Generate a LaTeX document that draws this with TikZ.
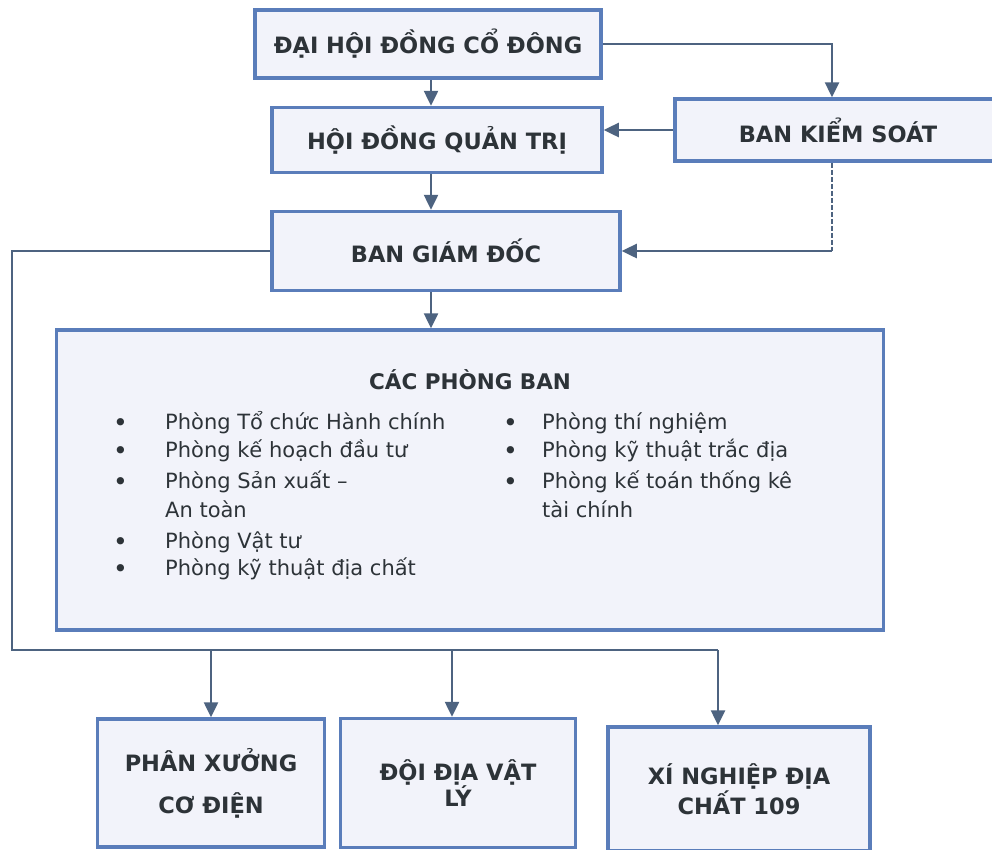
\documentclass[tikz,border=0pt]{standalone}
\usepackage{fontspec}
\setmainfont{DejaVu Sans}
\usetikzlibrary{arrows.meta,positioning}
\definecolor{boxline}{HTML}{5A7DBA}
\definecolor{boxfill}{HTML}{F2F3FA}
\definecolor{wire}{HTML}{4D6380}
\definecolor{ink}{HTML}{2D3338}
\tikzset{
  unit/.style={draw=boxline, line width=3.5pt, fill=boxfill, text=ink, align=center, inner sep=0pt,
    font=\bfseries\fontsize{22.5}{25}\selectfont},
  link/.style={draw=wire, line width=2.5pt, -{Triangle[length=15pt,width=14pt]}},
  wireline/.style={draw=wire, line width=2.5pt},
  item/.style={text=ink, anchor=west, inner sep=0pt, text height=15pt, text depth=5pt,
    font=\fontsize{21}{25}\selectfont},
  dot/.style={item, text height=8pt, text depth=0pt, font=\fontsize{25}{25}\selectfont},
}
\begin{document}
\begin{tikzpicture}[x=1pt,y=-1pt]
  \useasboundingbox (0,0) rectangle (992,849);
  \fill[white] (0,0) rectangle (992,849);
  \coordinate (axis) at (431,0);
  \coordinate (ks) at (832,0);
  \coordinate (s0) at (12,650);
  \coordinate (s1) at (211,650);
  \coordinate (s2) at (452,650);
  \coordinate (s3) at (718,650);

  \node[unit, minimum width=346pt, minimum height=68pt] (dhdcd) at (428,44) {ĐẠI HỘI ĐỒNG CỔ ĐÔNG};
  \node[unit, minimum width=330pt, minimum height=65pt] (hdqt) at (437,140) {HỘI ĐỒNG QUẢN TRỊ};
  \node[unit, minimum width=326pt, minimum height=62pt] (bks) at (838,130) {BAN KIỂM SOÁT};
  \node[unit, minimum width=348pt, minimum height=79pt] (bgd) at (446,251) {BAN GIÁM ĐỐC};
  \node[unit, minimum width=827pt, minimum height=300pt] (pb) at (470,480) {};
  \node[unit, minimum width=227pt, minimum height=128pt] (pxcd) at (211,783) {PHÂN XƯỞNG\\[17pt]CƠ ĐIỆN};
  \node[unit, minimum width=235pt, minimum height=129pt] (ddvl) at (458,783) {ĐỘI ĐỊA VẬT\\LÝ};
  \node[unit, minimum width=262pt, minimum height=124pt] (xndc) at (739,789) {XÍ NGHIỆP ĐỊA\\[1pt]CHẤT 109};

  \node[text=ink, font=\bfseries\fontsize{21.5}{25}\selectfont] (pbtitle) at (470,380) {CÁC PHÒNG BAN};
  \foreach \yy/\bul/\txt in {424/•/Phòng Tổ chức Hành chính, 452/•/Phòng kế hoạch đầu tư,
      483/•/Phòng Sản xuất –, 512//An toàn, 543/•/Phòng Vật tư, 570/•/Phòng kỹ thuật địa chất}{
    \node[dot] (bl\yy) at (113,\yy) {\raisebox{-3pt}{\bul}};
    \node[item] (il\yy) at (165,\yy) {\txt};
  }
  \foreach \yy/\bul/\txt in {424/•/Phòng thí nghiệm, 452/•/Phòng kỹ thuật trắc địa,
      483/•/Phòng kế toán thống kê, 512//tài chính}{
    \node[dot] (br\yy) at (503,\yy) {\raisebox{-3pt}{\bul}};
    \node[item] (ir\yy) at (542,\yy) {\txt};
  }

  \draw[link] (dhdcd.south -| axis) -- (hdqt.north -| axis);
  \draw[link] (hdqt.south -| axis) -- (bgd.north -| axis);
  \draw[link] (bgd.south -| axis) -- (pb.north -| axis);
  \draw[link] (dhdcd.east) -| (bks.north -| ks);
  \draw[link] (bks.west) -- (bks.west -| hdqt.east);
  \draw[wireline, line width=2pt, dash pattern=on 5pt off 2pt] (bks.south -| ks) -- (ks |- bgd.east);
  \draw[link] (ks |- bgd.east) -- (bgd.east);
  \draw[wireline] (bgd.west) -| (s0) -- (s3);
  \draw[link] (s1) -- (pxcd.north -| s1);
  \draw[link] (s2) -- (ddvl.north -| s2);
  \draw[link] (s3) -- (xndc.north -| s3);
\end{tikzpicture}
\end{document}
